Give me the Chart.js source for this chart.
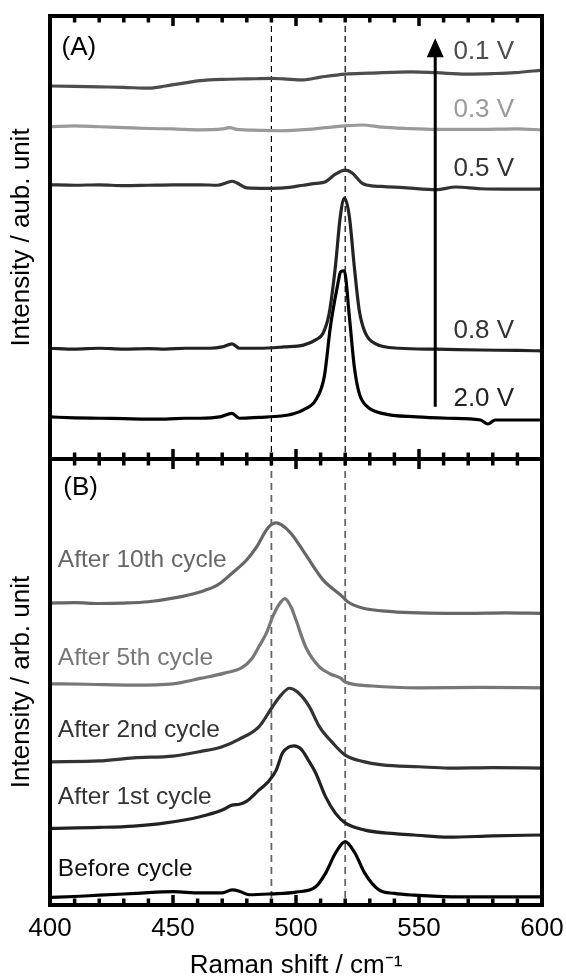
<!DOCTYPE html>
<html>
<head>
<meta charset="utf-8">
<script src="https://cdn.jsdelivr.net/npm/chart.js@4.4.1/dist/chart.umd.min.js"></script>
<style>
  html, body { margin: 0; padding: 0; background: #fff; }
  body { width: 566px; height: 978px; position: relative; overflow: hidden; }
  .panel { position: absolute; left: 0; width: 566px; }
  #wrapA { top: 0; height: 463px; }
  #wrapB { top: 455px; height: 523px; }
</style>
</head>
<body>
<div class="panel" id="wrapA"><canvas id="chartA"></canvas></div>
<div class="panel" id="wrapB"><canvas id="chartB"></canvas></div>
<script>
Chart.defaults.font.family = '"Liberation Sans", Arial, Helvetica, sans-serif';
Chart.defaults.color = '#000';

// Raman shift axis (cm-1)
const shiftMin = 400, shiftMax = 600;
const shiftStep = 50;
const guideShifts = [490, 520];

// (A) spectra at each potential, offset intensity (arb.)
const spec01V = [[400,84.2],[410,84.1],[420,84.0],[430,83.9],[440,83.7],[447,84.2],[455,84.9],[461,85.4],[470,85.7],[480,85.8],[490,85.9],[495,85.8],[503,85.6],[510,86.2],[520,86.9],[530,87.1],[547,87.4],[557,87.2],[569,86.9],[580,87.0],[589,87.2],[600,87.8]];
const spec03V = [[400,75.0],[410,75.2],[420,75.0],[430,74.8],[440,74.6],[450,74.5],[461,74.3],[470,74.5],[473,74.8],[476,74.4],[485,74.2],[494,74.1],[505,74.4],[512,74.8],[520,75.2],[527,75.4],[535,74.9],[545,74.6],[557,74.4],[575,74.4],[590,74.5],[600,74.3]];
const spec05V = [[400,61.9],[410,61.8],[420,61.9],[430,61.7],[440,61.8],[450,61.9],[461,61.9],[468,61.8],[472,62.4],[474,62.7],[476,62.3],[480,61.2],[488,61.1],[495,61.2],[503,61.8],[508,62.2],[512,62.6],[516,64.3],[520,65.2],[523,64.5],[527,62.2],[532,61.6],[536,61.5],[545,61.2],[557,60.8],[565,61.4],[575,61.0],[590,60.9],[600,60.9]];
const spec08V = [[400,25.0],[410,24.8],[420,25.0],[430,24.8],[440,24.9],[447,24.8],[455,25.0],[465,25.0],[470,25.3],[474,26.0],[477,25.0],[485,25.0],[495,25.3],[503,25.7],[508,26.9],[511,28.4],[513.5,32.9],[516,43.4],[518,54.7],[519.7,58.9],[521.7,54.7],[523.7,43.4],[525.7,33.6],[528,28.7],[532,26.1],[542,25.0],[557,24.8],[575,24.6],[590,24.5],[600,24.4]];
const spec20V = [[400,9.5],[410,9.3],[420,9.2],[430,9.1],[440,9.0],[447,9.0],[455,9.2],[461,9.2],[469,9.5],[474,10.3],[477,9.2],[485,9.4],[494,9.7],[499,10.2],[503,11.1],[508,13.3],[511.5,18.6],[514,29.9],[516.8,38.9],[518.2,42.3],[519.6,42.5],[521.7,32.1],[523.7,20.8],[525.7,14.8],[529,11.8],[535,10.3],[549,9.5],[562,9.2],[575,8.8],[578,7.9],[581,8.8],[590,8.8],[600,8.8]];
const potentialLabels = ['0.1 V', '0.3 V', '0.5 V', '0.8 V', '2.0 V'];

// (B) spectra after cycling, offset intensity (arb.)
const cycle10 = [[400,67.7],[410,67.8],[420,67.6],[430,67.7],[440,68.0],[450,68.8],[461,70.2],[468,71.7],[474,74.4],[480,77.4],[484,80.3],[488,84.1],[490,85.3],[492,85.7],[494,85.3],[498,83.3],[504,78.5],[511,72.9],[519,69.1],[521,68.0],[527,66.6],[539,65.8],[550,65.5],[570,65.4],[585,65.5],[600,65.4]];
const cycle05 = [[400,49.6],[415,49.5],[434,49.3],[450,49.6],[461,50.8],[471,52.0],[478,53.2],[482,55.2],[485,58.0],[488,61.0],[490.5,64.6],[493,67.3],[495.5,68.7],[498,66.8],[500,63.9],[504,57.8],[509.5,53.4],[514,51.8],[518,50.9],[520,50.0],[531,49.1],[550,48.7],[575,48.8],[600,48.7]];
const cycle02 = [[400,32.1],[420,32.3],[434,33.0],[450,33.4],[461,34.4],[470,35.5],[477,37.2],[485,40.0],[490.5,44.5],[494,47.1],[497.3,48.6],[500.5,47.8],[505.4,44.5],[509.5,40.0],[515,36.3],[520,33.6],[527,32.2],[535,31.4],[550,31.0],[562,30.7],[580,30.8],[600,30.7]];
const cycle01 = [[400,17.2],[420,17.4],[434,17.7],[447,18.4],[461,19.8],[470,21.3],[474,22.4],[477,22.6],[480,23.3],[485,25.8],[489,27.8],[492,30.3],[494.5,34.1],[497,35.4],[499.2,35.7],[502,35.0],[505,32.5],[508,29.6],[512,24.3],[516,20.6],[520,18.4],[528,16.8],[540,16.0],[548,15.7],[562,15.2],[580,15.5],[600,15.7]];
const cycle00 = [[400,1.7],[410,1.9],[420,2.2],[435,2.6],[450,3.0],[461,2.7],[470,2.7],[474,3.4],[477,3.1],[481,2.3],[490,2.5],[500,2.9],[508,4.1],[512,7.1],[516,11.6],[520,14.2],[524,11.6],[528,7.1],[533.7,3.4],[540,2.6],[548,2.2],[560,1.9],[580,1.8],[600,1.8]];
const cycleLabels = ['After 10th cycle', 'After 5th cycle', 'After 2nd cycle', 'After 1st cycle', 'Before cycle'];

// styles and label anchors (data coords)
const lineColorsA = ['#4d4d4d', '#9a9a9a', '#333333', '#222222', '#000000'];
const textColorsA = ['#4d4d4d', '#9a9a9a', '#333333', '#333333', '#222222'];
const labelAnchorsA = [[564, 91.9], [564, 78.8], [564, 65.5], [564, 29.0], [564, 13.5]];
const lineColorsB = ['#666666', '#777777', '#333333', '#222222', '#000000'];
const textColorsB = ['#666666', '#777777', '#333333', '#333333', '#111111'];
const labelAnchorsB = [[403.2, 77.4], [403.2, 55.4], [403.2, 39.2], [403.2, 24.2], [403.2, 8.1]];

const FONT = '"Liberation Sans", Arial, Helvetica, sans-serif';

function toPoints(arr) {
  return arr.map(p => ({ x: p[0], y: p[1] }));
}

function makeDatasets(list, colors) {
  return list.map((s, i) => ({
    data: toPoints(s),
    borderColor: colors[i],
    borderWidth: 3.2,
    pointRadius: 0,
    fill: false,
    cubicInterpolationMode: 'monotone'
  }));
}

// frame, inward ticks, guide lines, labels, arrow
function panelDecor(opt) {
  return {
    id: 'panelDecor',
    beforeDatasetsDraw(chart) {
      const { ctx, chartArea: a, scales: { x } } = chart;
      ctx.save();
      ctx.strokeStyle = opt.guideColor;
      ctx.lineWidth = opt.guideWidth;
      ctx.setLineDash(opt.guideDash);
      guideShifts.forEach(v => {
        const px = x.getPixelForValue(v);
        ctx.beginPath();
        ctx.moveTo(px, a.top);
        ctx.lineTo(px, a.bottom);
        ctx.stroke();
      });
      ctx.restore();
    },
    afterDatasetsDraw(chart) {
      const { ctx, chartArea: a, scales: { x, y } } = chart;
      ctx.save();
      ctx.strokeStyle = '#000';
      ctx.lineWidth = 4;
      ctx.strokeRect(a.left, a.top, a.right - a.left, a.bottom - a.top);

      ctx.lineWidth = 3.5;
      for (let v = shiftMin; v <= shiftMax; v += 10) {
        const px = x.getPixelForValue(v);
        const len = v % shiftStep === 0 ? 10 : 6.5;
        ctx.beginPath();
        ctx.moveTo(px, a.top);
        ctx.lineTo(px, a.top + len);
        ctx.moveTo(px, a.bottom);
        ctx.lineTo(px, a.bottom - len);
        ctx.stroke();
      }

      ctx.textBaseline = 'middle';
      ctx.textAlign = 'left';
      opt.labels.forEach(l => {
        ctx.font = l.size + 'px ' + FONT;
        ctx.fillStyle = l.color;
        ctx.fillText(l.text, x.getPixelForValue(l.x), y.getPixelForValue(l.y));
      });

      if (opt.arrow) {
        const ax = x.getPixelForValue(opt.arrow.x);
        const yFrom = y.getPixelForValue(opt.arrow.from);
        const yTo = y.getPixelForValue(opt.arrow.to);
        ctx.lineWidth = 3;
        ctx.beginPath();
        ctx.moveTo(ax, yFrom);
        ctx.lineTo(ax, yTo + 15);
        ctx.stroke();
        ctx.fillStyle = '#000';
        ctx.beginPath();
        ctx.moveTo(ax, yTo);
        ctx.lineTo(ax - 8.5, yTo + 19);
        ctx.lineTo(ax + 8.5, yTo + 19);
        ctx.closePath();
        ctx.fill();
      }
      ctx.restore();
    }
  };
}

function yAxis(title) {
  return {
    min: 0,
    max: 100,
    ticks: { display: false },
    grid: { display: false, drawTicks: false },
    border: { display: false },
    title: { display: true, text: title, color: '#000', font: { size: 26 }, padding: { top: 6, bottom: 0 } },
    afterFit(scale) { scale.width = 50; }
  };
}

const labelsA = potentialLabels.map((t, i) => ({
  text: t, x: labelAnchorsA[i][0], y: labelAnchorsA[i][1], color: textColorsA[i], size: 26
}));
labelsA.push({ text: '(A)', x: 404.7, y: 92.9, color: '#000', size: 26 });

const labelsB = cycleLabels.map((t, i) => ({
  text: t, x: labelAnchorsB[i][0], y: labelAnchorsB[i][1], color: textColorsB[i], size: 24.5
}));
labelsB.push({ text: '(B)', x: 405.4, y: 93.5, color: '#000', size: 26 });

new Chart(document.getElementById('chartA'), {
  type: 'line',
  data: { datasets: makeDatasets([spec01V, spec03V, spec05V, spec08V, spec20V], lineColorsA) },
  options: {
    responsive: true,
    maintainAspectRatio: false,
    animation: false,
    devicePixelRatio: 1,
    layout: { padding: { left: 0, top: 16, right: 24, bottom: 4 } },
    plugins: { legend: { display: false }, tooltip: { enabled: false } },
    scales: {
      x: { type: 'linear', min: shiftMin, max: shiftMax, display: false },
      y: yAxis('Intensity / aub. unit')
    }
  },
  plugins: [panelDecor({
    guideColor: '#000', guideWidth: 1.2, guideDash: [6, 4],
    labels: labelsA,
    arrow: { x: 556.6, from: 11.8, to: 95.0 }
  })]
});

new Chart(document.getElementById('chartB'), {
  type: 'line',
  data: { datasets: makeDatasets([cycle10, cycle05, cycle02, cycle01, cycle00], lineColorsB) },
  options: {
    responsive: true,
    maintainAspectRatio: false,
    animation: false,
    devicePixelRatio: 1,
    layout: { padding: { left: 0, top: 4, right: 24, bottom: 0 } },
    plugins: { legend: { display: false }, tooltip: { enabled: false } },
    scales: {
      x: {
        type: 'linear',
        min: shiftMin,
        max: shiftMax,
        ticks: { stepSize: shiftStep, padding: 8, maxRotation: 0, color: '#000', font: { size: 26 } },
        grid: { display: false, drawTicks: false },
        border: { display: false },
        title: {
          display: true,
          text: 'Raman shift / cm\u207B\u00B9',
          color: '#000',
          font: { size: 26, lineHeight: 0.9 },
          padding: { top: 0, bottom: 0 }
        },
        afterFit(scale) {
          scale.height = 73;
          scale.paddingLeft = 0;
          scale.paddingRight = 0;
        }
      },
      y: yAxis('Intensity / arb. unit')
    }
  },
  plugins: [panelDecor({
    guideColor: '#666', guideWidth: 1.8, guideDash: [7, 5],
    labels: labelsB
  })]
});
</script>
</body>
</html>
